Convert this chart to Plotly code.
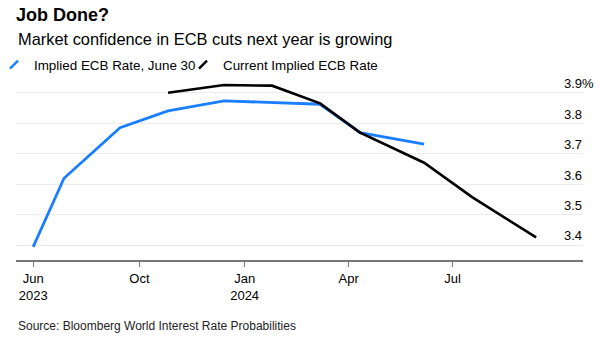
import plotly.graph_objects as go

# ---- data ----
june30_dates = ["2023-06-30", "2023-07-27", "2023-09-14", "2023-10-26", "2023-12-14",
                "2024-01-25", "2024-03-07", "2024-04-11", "2024-06-06"]
june30_rates = [3.394, 3.619, 3.785, 3.840, 3.873, 3.868, 3.862, 3.769, 3.731]

current_dates = ["2023-10-26", "2023-12-14", "2024-01-25", "2024-03-07", "2024-04-11",
                 "2024-06-06", "2024-07-18", "2024-09-12"]
current_rates = [3.900, 3.925, 3.923, 3.865, 3.769, 3.670, 3.557, 3.425]

x_tickvals = ["2023-06-30", "2023-10-01", "2024-01-01", "2024-04-01", "2024-07-01"]
x_ticktext = ["Jun<br>2023", "Oct", "Jan<br>2024", "Apr", "Jul"]
y_tickvals = [3.4, 3.5, 3.6, 3.7, 3.8, 3.9]
y_ticktext = ["3.4", "3.5", "3.6", "3.7", "3.8", "3.9%"]

series_names = ["Implied ECB Rate, June 30", "Current Implied ECB Rate"]
BLUE = "#1a7fff"
BLACK = "#000000"
FONT = "Liberation Sans, Arial, sans-serif"

fig = go.Figure()
fig.add_trace(go.Scatter(x=june30_dates, y=june30_rates, mode="lines",
                         line=dict(color=BLUE, width=2.8), showlegend=False,
                         name=series_names[0]))
fig.add_trace(go.Scatter(x=current_dates, y=current_rates, mode="lines",
                         line=dict(color=BLACK, width=2.6), showlegend=False,
                         name=series_names[1]))
# legend entries (slanted stroke icons), one legend each
for nm, col, lg in zip(series_names, [BLUE, BLACK], ["legend", "legend2"]):
    fig.add_trace(go.Scatter(x=[None], y=[None], mode="markers", name=nm, legend=lg,
                             marker=dict(symbol="line-ne", size=8,
                                         line=dict(color=col, width=2.5))))

legend_common = dict(orientation="h", xref="container", xanchor="left",
                     yref="container", y=1 - 65/341, yanchor="middle",
                     font=dict(size=13.4, color="#000"), bgcolor="rgba(0,0,0,0)")

fig.update_layout(
    width=607, height=341,
    margin=dict(l=16, r=24, t=75, b=81, autoexpand=False),
    paper_bgcolor="white", plot_bgcolor="white",
    font=dict(family=FONT, color="#000", size=13),
    title=dict(text="<b>Job Done?</b>", x=16/607, xanchor="left", xref="container",
               y=1 - 14.5/341, yanchor="middle", yref="container",
               font=dict(size=18, color="#000", family=FONT)),
    legend=dict(x=0, indentation=-6, **legend_common),
    legend2=dict(x=183/607, **legend_common),
    xaxis=dict(type="date", range=["2023-06-15", "2024-10-23"],
               tickvals=x_tickvals, ticktext=x_ticktext,
               showgrid=False, zeroline=False,
               showline=True, linecolor="#777", linewidth=1.5,
               ticks="outside", ticklen=5, tickcolor="#777", tickwidth=1,
               ticklabelstandoff=1,
               tickfont=dict(size=13, color="#000")),
    yaxis=dict(range=[3.3508, 3.958], side="right",
               tickvals=y_tickvals, ticktext=y_ticktext,
               showgrid=True, gridcolor="#ececec", gridwidth=1,
               zeroline=False, showline=False, ticks="",
               ticklabelposition="outside top", ticklabelstandoff=-20,
               tickfont=dict(size=13, color="#000")),
    annotations=[
        dict(text="Market confidence in ECB cuts next year is growing",
             xref="paper", yref="paper", x=0, y=(260 - 39.5)/185,
             xanchor="left", yanchor="middle", showarrow=False,
             font=dict(size=16.4, color="#000")),
        dict(text="Source: Bloomberg World Interest Rate Probabilities",
             xref="paper", yref="paper", x=0, y=(260 - 325.5)/185,
             xanchor="left", yanchor="middle", showarrow=False,
             font=dict(size=12, color="#222")),
    ],
)

fig.write_html("out.html")
